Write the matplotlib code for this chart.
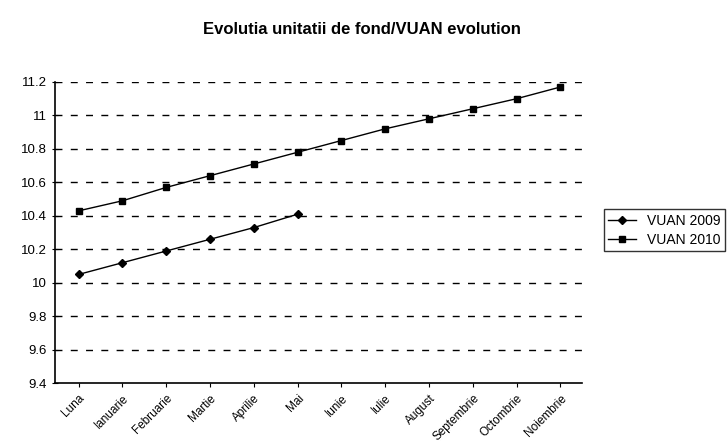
import numpy as np
import matplotlib.pyplot as plt

plt.rcParams['font.family'] = ['Liberation Sans', 'DejaVu Sans']

luni = ['Luna', 'Ianuarie', 'Februarie', 'Martie', 'Aprilie', 'Mai', 'Iunie',
        'Iulie', 'August', 'Septembrie', 'Octombrie', 'Noiembrie']
vuan_2009 = [10.05, 10.12, 10.19, 10.26, 10.33, 10.41]
vuan_2010 = [10.43, 10.49, 10.57, 10.64, 10.71, 10.78, 10.85, 10.92,
             10.98, 11.04, 11.10, 11.17]
y_ticks = [9.4, 9.6, 9.8, 10, 10.2, 10.4, 10.6, 10.8, 11, 11.2]
y_labels = ['9.4', '9.6', '9.8', '10', '10.2', '10.4', '10.6', '10.8', '11', '11.2']

fig = plt.figure(figsize=(7.28, 4.43), dpi=100)
ax = fig.add_axes([0.075, 0.135, 0.725, 0.68])

x = np.arange(len(luni))
ax.plot(x[:len(vuan_2009)], vuan_2009, color='black', lw=1.0,
        marker='D', markersize=4, label='VUAN 2009')
ax.plot(x, vuan_2010, color='black', lw=1.0,
        marker='s', markersize=5, label='VUAN 2010')

ax.set_xlim(-0.55, 11.5)
ax.set_ylim(9.4, 11.2)
ax.set_yticks(y_ticks)
ax.set_yticklabels(y_labels, fontsize=9.5)
ax.set_xticks(x)
ax.set_xticklabels(luni, rotation=45, ha='right', rotation_mode='anchor', fontsize=8.5)
ax.tick_params(axis='x', length=3)
ax.tick_params(axis='y', length=4, direction='inout')

for yv in y_ticks[1:]:
    ax.axhline(yv, color='black', lw=1.0, ls=(0, (5, 6)), zorder=0)

ax.spines['top'].set_visible(False)
ax.spines['right'].set_visible(False)
ax.spines['left'].set_linewidth(1.2)
ax.spines['bottom'].set_linewidth(1.2)

fig.suptitle('Evolutia unitatii de fond/VUAN evolution', x=0.497, y=0.95,
             fontsize=12, fontweight='bold')

leg = ax.legend(loc='center left', bbox_to_anchor=(0.82, 0.48),
                bbox_transform=fig.transFigure, fontsize=10, frameon=True,
                fancybox=False, edgecolor='black', borderpad=0.3,
                handlelength=2.0, labelspacing=0.4)
leg.get_frame().set_linewidth(1.0)

fig.savefig('out.png', dpi=100)
